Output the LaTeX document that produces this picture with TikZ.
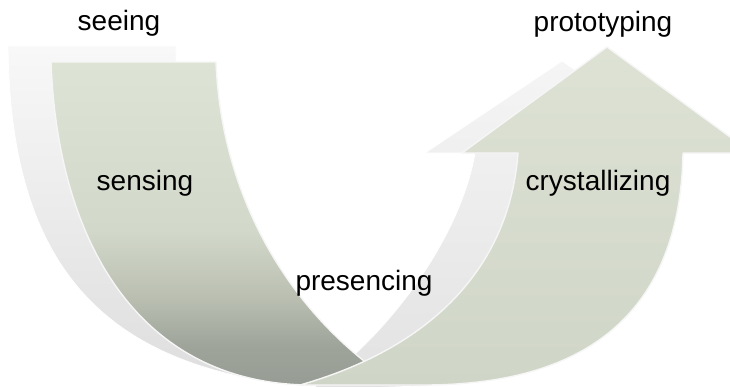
\documentclass[tikz,border=0pt]{standalone}
\usepackage{fontspec}
\setmainfont{Liberation Sans}
\definecolor{ld1}{HTML}{DDE3D5}
\definecolor{ld2}{HTML}{D3D9CA}
\definecolor{ld3}{HTML}{B8BDB0}
\definecolor{ld4}{HTML}{9FA49B}
\definecolor{ld5}{HTML}{979C94}
\definecolor{rg1}{HTML}{DDE2D4}
\definecolor{rg2}{HTML}{D0D6C7}
\definecolor{gy1}{HTML}{F8F8F8}
\definecolor{gy2}{HTML}{DEDEDE}
\definecolor{gz1}{HTML}{F5F5F5}
\definecolor{gz2}{HTML}{E2E2E2}
\definecolor{edge}{HTML}{F6F6F6}
\pgfdeclareverticalshading{leftband}{100bp}{color(0bp)=(ld5); color(25bp)=(ld5); color(31bp)=(ld4); color(38bp)=(ld3); color(49bp)=(ld2); color(75bp)=(ld1); color(100bp)=(ld1)}
\begin{document}
\begin{tikzpicture}[x=1pt,y=-1pt,
  outl/.style={draw=edge, line width=1.4pt, line join=round},
  lbl/.style={font=\fontsize{28}{32}\selectfont, text=black, inner sep=0pt, anchor=base}]
\useasboundingbox (0,0) rectangle (730,386);
\begin{scope}
\clip (0,0) rectangle (730,386);
% left grey band
\path[top color=gy1, bottom color=gy2, draw=white, line width=0.8pt]
  (8,46) -- (176,46) -- (176,62) .. controls (182,200) and (260,310) .. (340,370)
  -- (258,380) .. controls (90,350) and (10,250) .. (8,46) -- cycle;
% right grey arrow
\path[top color=gz1, bottom color=gz2, draw=white, line width=0.8pt]
  (310,390) .. controls (385,340) and (460,240) .. (475,153)
  -- (425,153) -- (562,61) -- (699,153) -- (640,153)
  .. controls (640,300) and (560,384) .. (420,386) -- cycle;
% left green band
\path[shading=leftband, outl]
  (51,62) -- (216,62) .. controls (222,210) and (300,320) .. (390,380)
  -- (310,385) .. controls (145,384) and (58,250) .. (51,62) -- cycle;
% right green arrow
\path[top color=rg1, bottom color=rg2, outl]
  (300,385) .. controls (440,345) and (510,260) .. (518,153)
  -- (462,153) -- (607,47) -- (752,153) -- (683,153)
  .. controls (680,310) and (590,386) .. (420,385) -- cycle;
\end{scope}
\node[lbl] (seeing) at (119,30.5) {seeing};
\node[lbl] (prototyping) at (603,31) {prototyping};
\node[lbl] (sensing) at (145,190) {sensing};
\node[lbl] (crystallizing) at (598,190) {crystallizing};
\node[lbl] (presencing) at (364,290) {presencing};
\end{tikzpicture}
\end{document}
